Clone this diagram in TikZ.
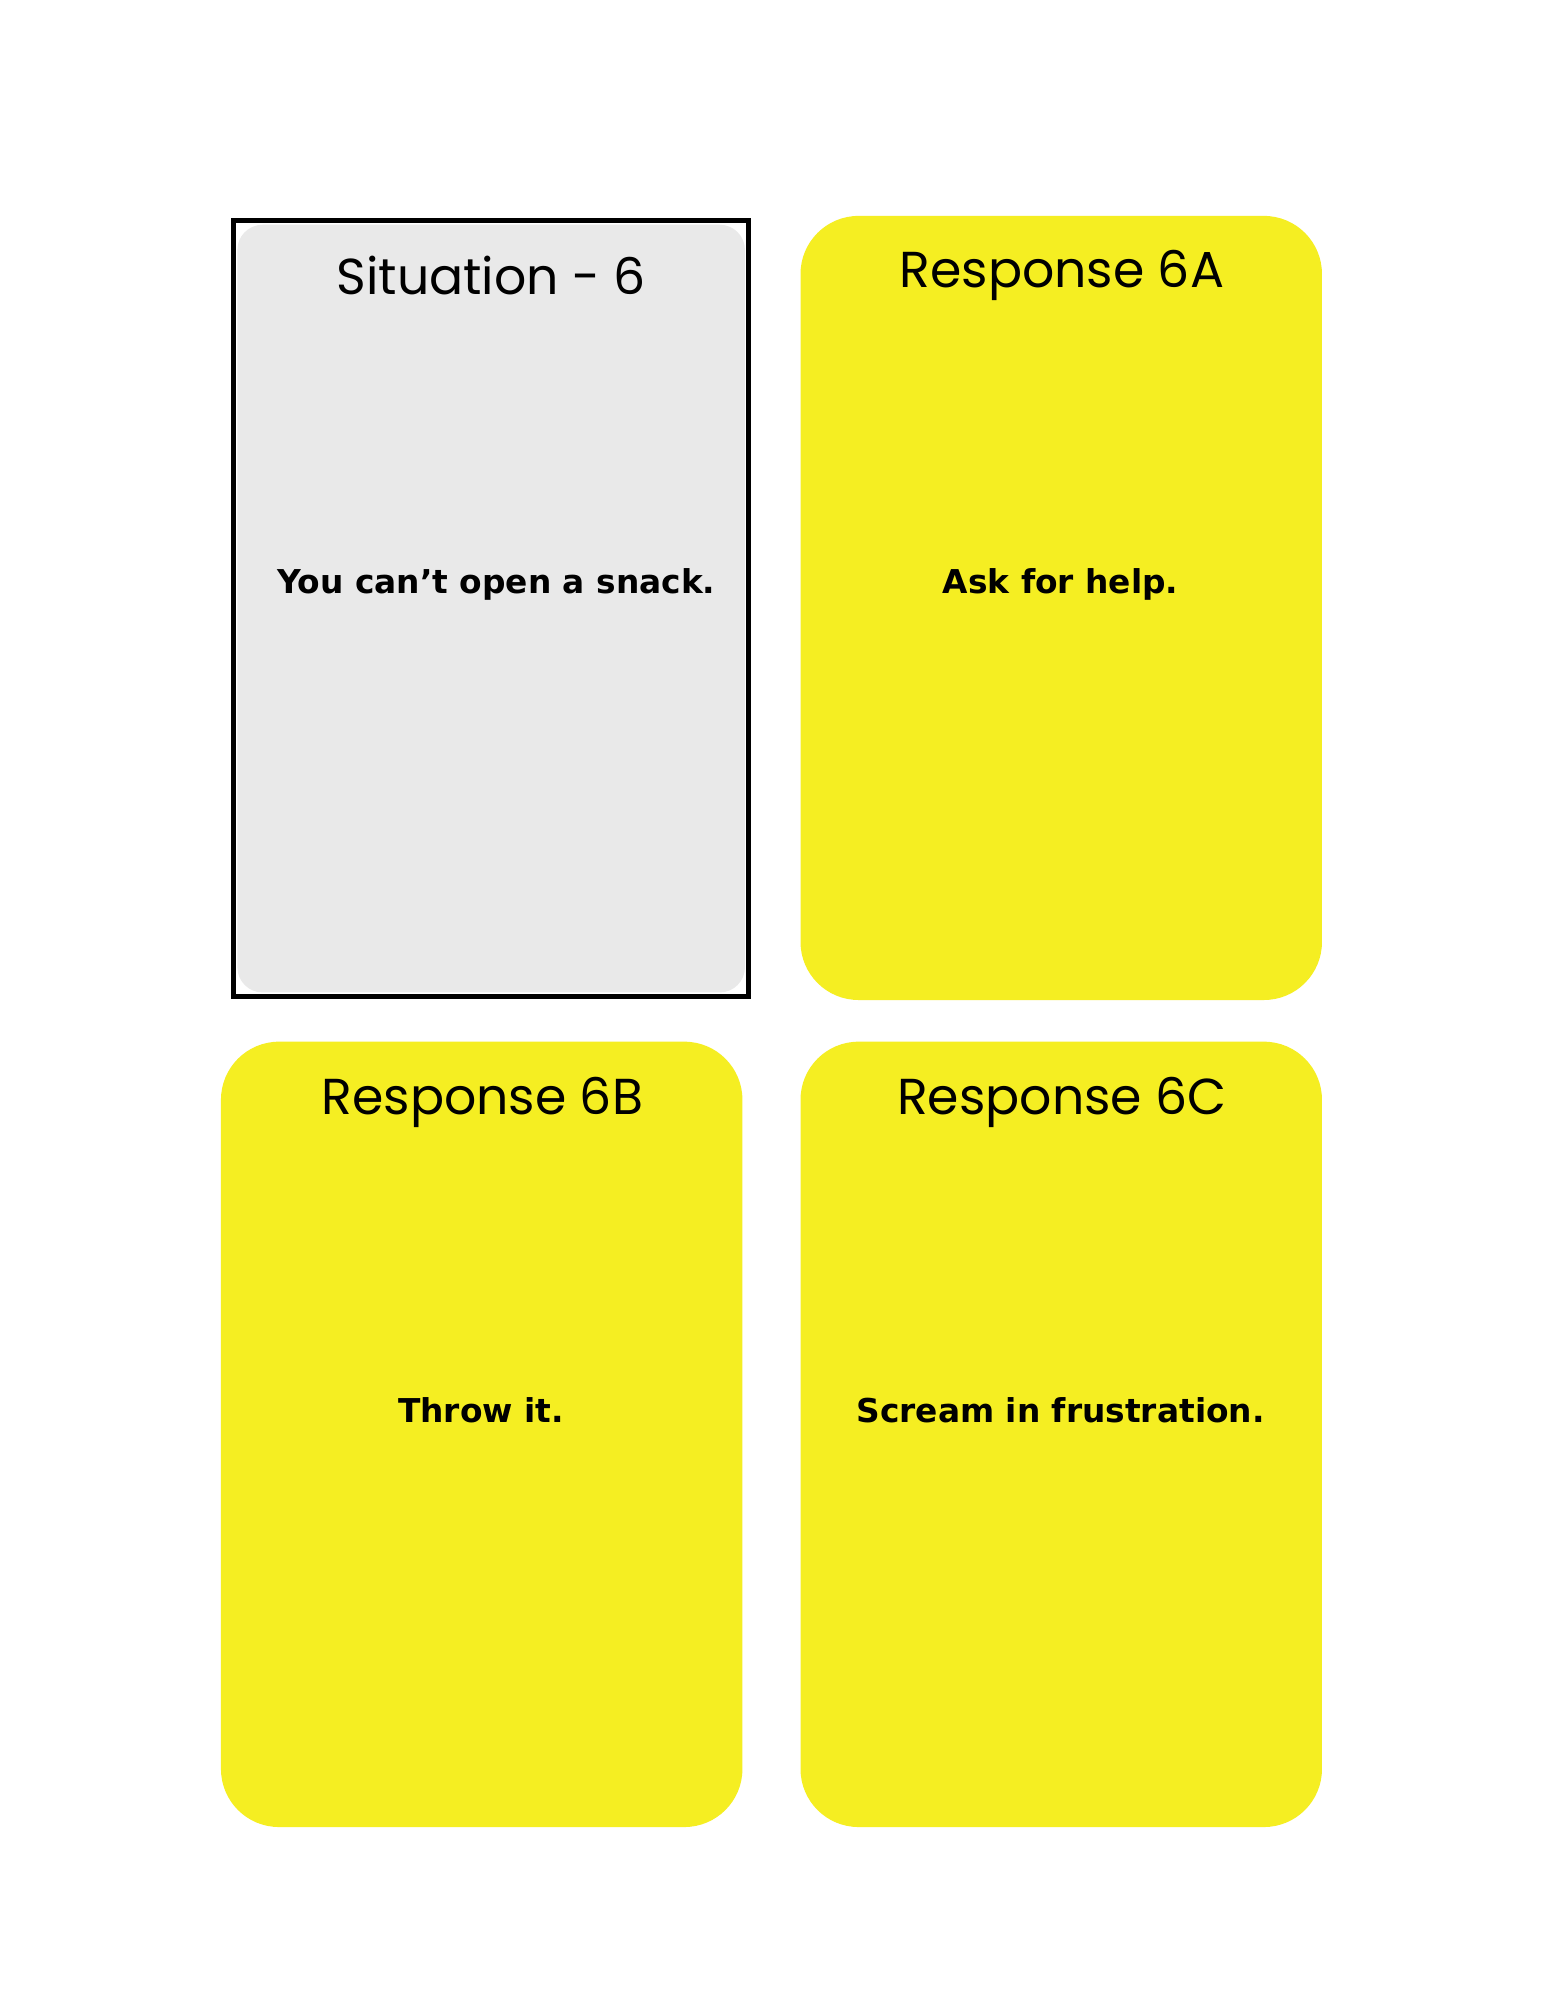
\documentclass[tikz,border=0pt]{standalone}
\usepackage{fontspec}
\setmainfont{DejaVu Sans}
\newfontfamily\titlefont{Poppins}
\definecolor{cardy}{HTML}{F5EE22}
\definecolor{cardg}{HTML}{E9E9E9}
\begin{document}
\begin{tikzpicture}[x=1pt,y=-1pt,
  ycard/.style={fill=cardy,draw=none,rounded corners=46pt},
  ttl/.style={font=\titlefont\fontsize{40}{44}\selectfont,anchor=center},
  body/.style={font=\bfseries\fontsize{26}{30}\selectfont,anchor=center}]
\useasboundingbox (0,0) rectangle (1224,1584);
\fill[white] (0,0) rectangle (1224,1584);
% situation card
\fill[cardg,rounded corners=20pt] (188,178) rectangle (590,786);
\draw[line width=4pt] (185,175) rectangle (593,789);
\node[ttl] (t0) at (389,218) {Situation - 6};
\node[body] (b0) at (393,463) {You can't open a snack.};
% response cards
\fill[ycard] (634,171) rectangle (1047,792);
\node[ttl] (t1) at (841,218) {Response 6A};
\node[body] (b1) at (840,463) {Ask for help.};
\fill[ycard] (175,825) rectangle (588,1447);
\node[ttl] (t2) at (382,873) {Response 6B};
\node[body] (b2) at (381,1117) {Throw it.};
\fill[ycard] (634,825) rectangle (1047,1447);
\node[ttl] (t3) at (841,873) {Response 6C};
\node[body] (b3) at (840,1117) {Scream in frustration.};
\end{tikzpicture}
\end{document}
